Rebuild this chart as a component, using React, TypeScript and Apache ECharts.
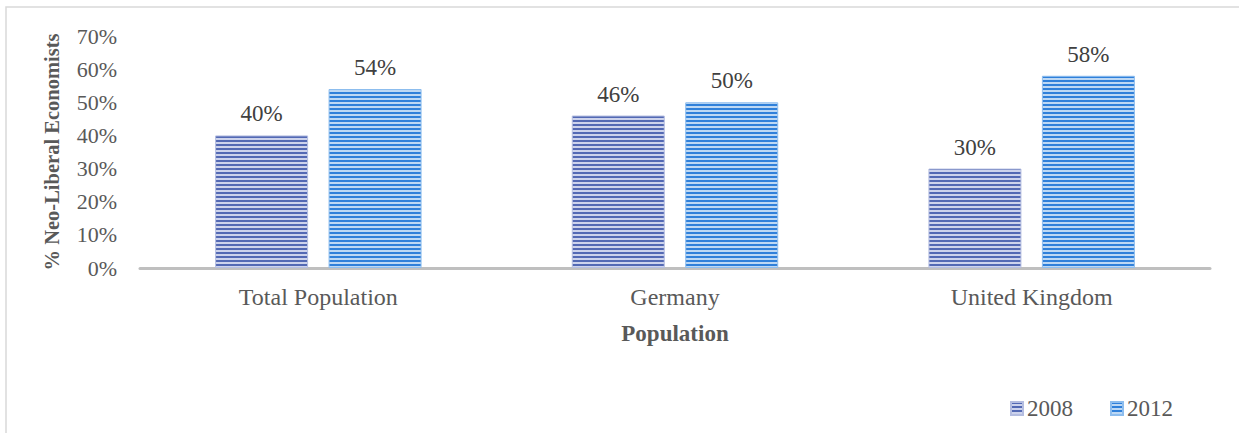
import React, { useEffect, useRef } from "react";
import * as echarts from "echarts";

const categories = ["Total Population", "Germany", "United Kingdom"];
const series2008 = [40, 46, 30];
const series2012 = [54, 50, 58];
const seriesNames = ["2008", "2012"];
const yTicks = [0, 10, 20, 30, 40, 50, 60, 70];

function makeStripe(dark: string, light: string): HTMLCanvasElement {
  const c = document.createElement("canvas");
  c.width = 8;
  c.height = 4;
  const ctx = c.getContext("2d")!;
  ctx.fillStyle = light;
  ctx.fillRect(0, 0, 8, 4);
  ctx.fillStyle = dark;
  ctx.fillRect(0, 0, 8, 2);
  return c;
}

export default function App() {
  const ref = useRef<HTMLDivElement>(null);
  useEffect(() => {
    if (!ref.current) return;
    const chart = echarts.init(ref.current, undefined, { renderer: "svg" });
    const p1 = makeStripe("#5369B4", "#CDD3EC");
    const p2 = makeStripe("#2F80DA", "#BDD8F4");
    const font = "'Liberation Serif', 'Times New Roman', serif";
    chart.setOption({
      animation: false,
      textStyle: { fontFamily: font },
      graphic: [
        {
          type: "rect",
          shape: { x: 6, y: 7, width: 1300, height: 500 },
          style: { fill: "none", stroke: "#D9D9D9", lineWidth: 1.5 },
          silent: true,
        },
      ],
      grid: { left: 140, right: 29, top: 36, bottom: 165 },
      legend: {
        left: 1010,
        top: 397,
        padding: 0,
        itemWidth: 12,
        itemHeight: 13,
        itemGap: 37,
        icon: "rect",
        textStyle: { fontFamily: font, fontSize: 23, color: "#595959", padding: [0, 0, 0, -1] },
        data: seriesNames,
      },
      xAxis: {
        type: "category",
        data: categories,
        axisLine: { lineStyle: { color: "#BFBFBF", width: 3 } },
        axisTick: { show: false },
        axisLabel: { fontFamily: font, fontSize: 24, color: "#595959", margin: 17 },
        name: "Population",
        nameLocation: "middle",
        nameGap: 54,
        nameTextStyle: { fontFamily: font, fontSize: 23, fontWeight: "bold", color: "#595959" },
      },
      yAxis: {
        type: "value",
        min: 0,
        max: 70,
        interval: 10,
        splitLine: { show: false },
        axisLine: { show: false },
        axisTick: { show: false },
        axisLabel: {
          fontFamily: font,
          fontSize: 22,
          color: "#595959",
          margin: 23,
          formatter: (v: number) => (yTicks.includes(v) ? v + "%" : ""),
        },
        name: "% Neo-Liberal Economists",
        nameLocation: "middle",
        nameGap: 78,
        nameTextStyle: { fontFamily: font, fontSize: 20.5, fontWeight: "bold", color: "#595959" },
      },
      series: [
        {
          name: seriesNames[0],
          type: "bar",
          data: series2008,
          barWidth: 93,
          barGap: "22%",
          itemStyle: {
            color: { image: p1, repeat: "repeat" },
            borderColor: "#B4BDE0",
            borderWidth: 1,
          },
          label: {
            show: true,
            position: "top",
            distance: 10,
            formatter: "{c}%",
            fontFamily: font,
            fontSize: 23,
            color: "#404040",
          },
        },
        {
          name: seriesNames[1],
          type: "bar",
          data: series2012,
          barWidth: 93,
          itemStyle: {
            color: { image: p2, repeat: "repeat" },
            borderColor: "#8DBDEE",
            borderWidth: 1,
          },
          label: {
            show: true,
            position: "top",
            distance: 10,
            formatter: "{c}%",
            fontFamily: font,
            fontSize: 23,
            color: "#404040",
          },
        },
      ],
    });
    return () => chart.dispose();
  }, []);
  return (
    <div
      ref={ref}
      style={{ position: "fixed", left: 0, top: 0, width: 1239, height: 433, background: "#fff" }}
    />
  );
}
